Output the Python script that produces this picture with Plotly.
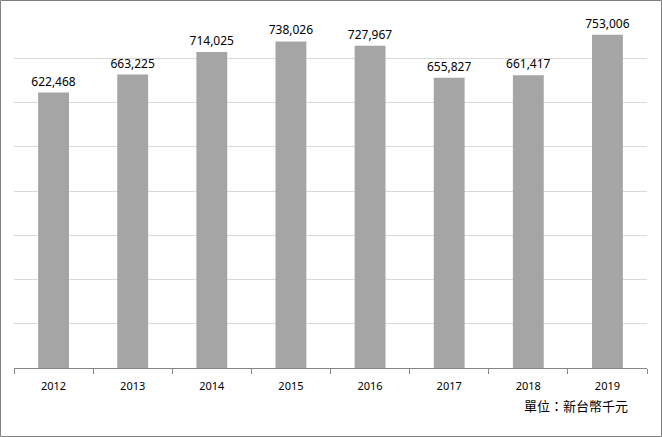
import plotly.graph_objects as go

# yearly totals (NT$ thousand)
years = ["2012", "2013", "2014", "2015", "2016", "2017", "2018", "2019"]
values = [622468, 663225, 714025, 738026, 727967, 655827, 661417, 753006]
labels = [f"{v:,}" for v in values]

fig = go.Figure()
fig.add_trace(go.Bar(
    x=years, y=values, text=labels, textposition="outside",
    constraintext="none",
    marker=dict(color="#A5A5A5", line=dict(width=0)),
    textfont=dict(size=12, color="#000000", family="Noto Sans"),
    width=0.39, cliponaxis=False,
))

# outer border around the whole chart
fig.add_shape(type="rect", xref="paper", yref="paper",
              x0=-0.0213, x1=1.0229, y0=-0.1935, y1=1.0381,
              line=dict(color="#808080", width=1))

fig.add_annotation(text="單位：新台幣千元", xref="paper", yref="paper",
                   x=0.888, y=-0.107, xanchor="center", yanchor="middle",
                   showarrow=False,
                   font=dict(size=13, color="#000000", family="Noto Sans CJK TC"))

fig.update_xaxes(type="category", tickson="boundaries", ticks="outside",
                 ticklen=5, tickcolor="#868686", showline=True,
                 linecolor="#868686", linewidth=1, showgrid=False,
                 ticklabelstandoff=8,
                 tickfont=dict(size=11, color="#000000", family="Noto Sans"))
fig.update_yaxes(range=[0, 800000], dtick=100000, showticklabels=False,
                 gridcolor="#D9D9D9", gridwidth=1, zeroline=False)

fig.update_layout(width=662, height=437, plot_bgcolor="white",
                  paper_bgcolor="white", showlegend=False, bargap=0.61,
                  margin=dict(l=14, r=15, t=14, b=69))

# drop the browser's default page margin so the chart sits at 0,0
fig.write_html("out.html", config={"displayModeBar": False},
               post_script="document.body.style.margin='0';")
